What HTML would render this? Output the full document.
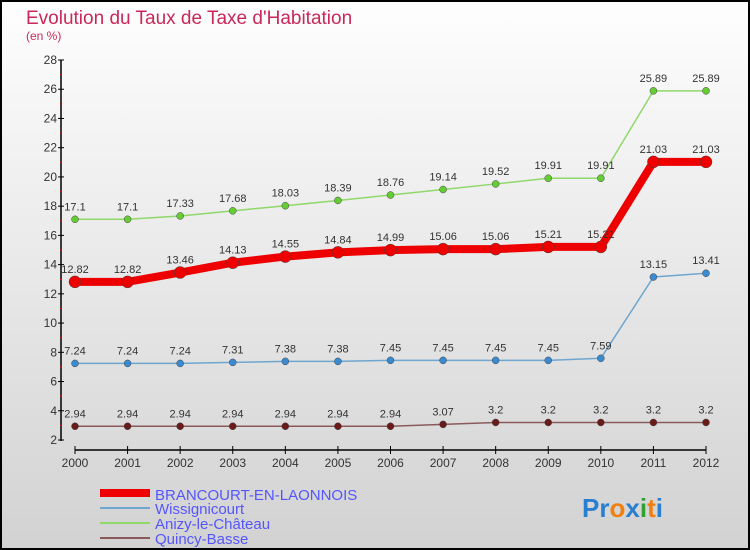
<!DOCTYPE html>
<html><head><meta charset="utf-8"><style>
body{margin:0}
svg{display:block;font-family:"Liberation Sans",sans-serif}
</style></head><body>
<svg id="c" width="750" height="550" xmlns="http://www.w3.org/2000/svg">
<defs><linearGradient id="bg" x1="0" y1="0" x2="0" y2="1"><stop offset="0" stop-color="#fefefe"/><stop offset="1" stop-color="#d2d2d2"/></linearGradient></defs>
<rect x="1" y="1" width="748" height="548" fill="url(#bg)" stroke="#000" stroke-width="2"/>
<text x="26" y="24" font-size="19" fill="#c8285a">Evolution du Taux de Taxe d'Habitation</text>
<text x="26" y="40" font-size="12" fill="#c8285a">(en %)</text>
<g id="axes"></g><g id="series"></g>
<g>
<rect x="100" y="489" width="50" height="8" fill="#e00"/>
<text x="155" y="500" font-size="15" fill="#5555ff">BRANCOURT-EN-LAONNOIS</text>
<rect x="100" y="507" width="50" height="2" fill="#6fa6cf"/>
<text x="155" y="514" font-size="15" fill="#5555ff">Wissignicourt</text>
<rect x="100" y="522" width="50" height="2" fill="#8fd86a"/>
<text x="155" y="529" font-size="15" fill="#5555ff">Anizy-le-Château</text>
<rect x="100" y="537" width="50" height="2" fill="#8a5a5a"/>
<text x="155" y="544" font-size="15" fill="#5555ff">Quincy-Basse</text>
</g>
<text x="582" y="517" font-size="26" font-weight="bold"><tspan fill="#2a7fd0">Pr</tspan><tspan fill="#f08010">o</tspan><tspan fill="#2a7fd0">x</tspan><tspan fill="#30a030">i</tspan><tspan fill="#f08010">t</tspan><tspan fill="#2a7fd0">i</tspan></text>
</svg>
<script>
const years=["2000","2001","2002","2003","2004","2005","2006","2007","2008","2009","2010","2011","2012"];
const brancourt=[12.82,12.82,13.46,14.13,14.55,14.84,14.99,15.06,15.06,15.21,15.21,21.03,21.03];
const wissignicourt=[7.24,7.24,7.24,7.31,7.38,7.38,7.45,7.45,7.45,7.45,7.59,13.15,13.41];
const anizy=[17.1,17.1,17.33,17.68,18.03,18.39,18.76,19.14,19.52,19.91,19.91,25.89,25.89];
const quincy=[2.94,2.94,2.94,2.94,2.94,2.94,2.94,3.07,3.2,3.2,3.2,3.2,3.2];
const yTicks=[2,4,6,8,10,12,14,16,18,20,22,24,26,28];
const NS="http://www.w3.org/2000/svg";
const X=i=>75+i*(706-75)/(years.length-1);
const Y=v=>440-(v-2)*(380/26);
function mk(tag,attrs,parent,text){const e=document.createElementNS(NS,tag);for(const k in attrs)e.setAttribute(k,attrs[k]);if(text!==undefined)e.textContent=text;parent.appendChild(e);return e;}
const ax=document.getElementById('axes');
let e=mk('line',{x1:61,y1:60,x2:61,y2:441,stroke:'#000','stroke-width':1.5},ax);


e=mk('line',{x1:75,y1:450,x2:706,y2:450,stroke:'#000','stroke-width':1.5},ax);


yTicks.forEach(v=>{
 mk('line',{x1:58,y1:Y(v),x2:64,y2:Y(v),stroke:'#000'},ax);
 if(v<28)mk('line',{x1:60,y1:Y(v+1),x2:62,y2:Y(v+1),stroke:'#f00'},ax);
 e=mk('text',{x:57,y:Y(v)+4,'font-size':12,'text-anchor':'end',fill:'#333'},ax,String(v));
 
 
});
years.forEach((y,i)=>{
 mk('line',{x1:X(i),y1:446,x2:X(i),y2:454,stroke:'#000'},ax);
 e=mk('text',{x:X(i),y:467,'font-size':12,'text-anchor':'middle',fill:'#333'},ax,y);
 
 
});
const sg=document.getElementById('series');
function series(data,name,color,lw,r,dot){
 const g=mk('g',{},sg);
 
 
 const p=mk('polyline',{points:data.map((v,i)=>X(i)+','+Y(v)).join(' '),fill:'none',stroke:color,'stroke-width':lw,'stroke-linejoin':'round'},g);
 
 
 data.forEach((v,i)=>{
  const c=mk('circle',{cx:X(i),cy:Y(v),r:r,fill:dot,stroke:'#444','stroke-width':0.5},g);
  
  
  const t=mk('text',{x:X(i),y:Y(v)-9,'font-size':11,'text-anchor':'middle',fill:'#333'},g,String(v));
  
  
 });
}
series(quincy,'quincy','#8a5a5a',1.5,3.5,'#6b1a1a');
series(wissignicourt,'wissignicourt','#6fa6cf',1.5,3.5,'#3a8ad0');
series(anizy,'anizy','#8fd86a',1.5,3.5,'#66cc33');
series(brancourt,'brancourt','#ee0000',8,6,'#ee0000');
</script>
</body></html>
